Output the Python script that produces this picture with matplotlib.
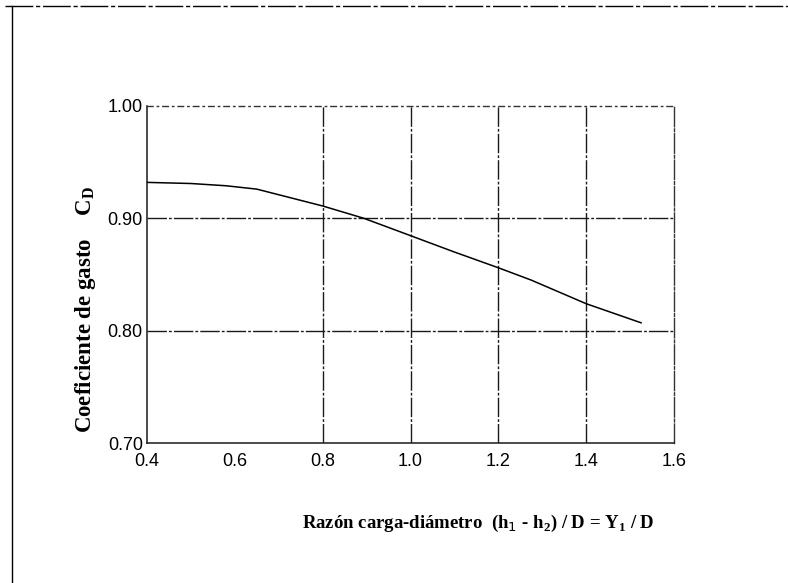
import numpy as np
import matplotlib.pyplot as plt
from matplotlib.lines import Line2D

# values
ratio = [0.40, 0.50, 0.58, 0.65, 0.72, 0.80, 0.894, 0.98, 1.10, 1.20, 1.275, 1.40, 1.525]
cd = [0.932, 0.931, 0.929, 0.926, 0.919, 0.911, 0.900, 0.8875, 0.870, 0.856, 0.845, 0.824, 0.807]

xticks = [0.4, 0.6, 0.8, 1.0, 1.2, 1.4, 1.6]
yticks = [0.70, 0.80, 0.90, 1.00]
xgrid = [0.8, 1.0, 1.2, 1.4]
ygrid = [0.80, 0.90]

plt.rcParams['mathtext.fontset'] = 'custom'
plt.rcParams['mathtext.rm'] = 'Liberation Serif:bold'

fig = plt.figure(figsize=(7.88, 5.83), dpi=100)
ax = fig.add_axes([147/788, 1-443/583, 527/788, 337/583])

gridstyle = (0, (14, 1.5, 2, 1.5))
for g in xgrid:
    ax.axvline(g, color='0.1', lw=1.0, ls=gridstyle, zorder=1)
for g in ygrid:
    ax.axhline(g, color='0.1', lw=1.0, ls=gridstyle, zorder=1)

ax.plot(ratio, cd, color='black', lw=1.1, zorder=3)

ax.set_xlim(0.4, 1.6)
ax.set_ylim(0.70, 1.00)
ax.set_xticks(xticks)
ax.set_xticklabels(['%.1f' % t for t in xticks])
ax.set_yticks(yticks)
ax.set_yticklabels(['%.2f' % t for t in yticks])
ax.tick_params(axis='x', length=0, pad=7, labelsize=13)
ax.tick_params(axis='y', length=0, pad=3, labelsize=13)
for lab in ax.get_xticklabels() + ax.get_yticklabels():
    lab.set_family('Liberation Sans')

for side in ['left', 'bottom']:
    ax.spines[side].set_linewidth(1.1)
    ax.spines[side].set_color('0.1')
for side in ['top', 'right']:
    ax.spines[side].set_linewidth(1.0)
    ax.spines[side].set_linestyle((0, (4, 3, 1, 3)))
    ax.spines[side].set_color('0.2')
ax.spines['right'].set_linestyle(gridstyle)

fig.text(302/788, 1-523/583, 'Razón carga-diámetro  (h$_\\mathregular{\\mathsf{1}}$ - h$_\\mathregular{2}$) / D = Y$_\\mathregular{1}$ / D',
         family='Liberation Serif', weight='bold', fontsize=13.5, ha='left', va='center')
fig.text(85/788, 1-310/583, 'Coeficiente de gasto    C$_\\mathregular{D}$',
         family='Liberation Serif', weight='bold', fontsize=16.5, rotation=90,
         ha='center', va='center')

# frame lines of the scanned page
fig.add_artist(Line2D([5/788, 1.0], [1-6/583, 1-6/583], transform=fig.transFigure,
                      color='black', lw=1.0, ls=(0, (20, 2, 3, 2))))
fig.add_artist(Line2D([12/788, 12/788], [0, 1-6/583], transform=fig.transFigure,
                      color='black', lw=1.0))

fig.savefig('out.png', dpi=100)
